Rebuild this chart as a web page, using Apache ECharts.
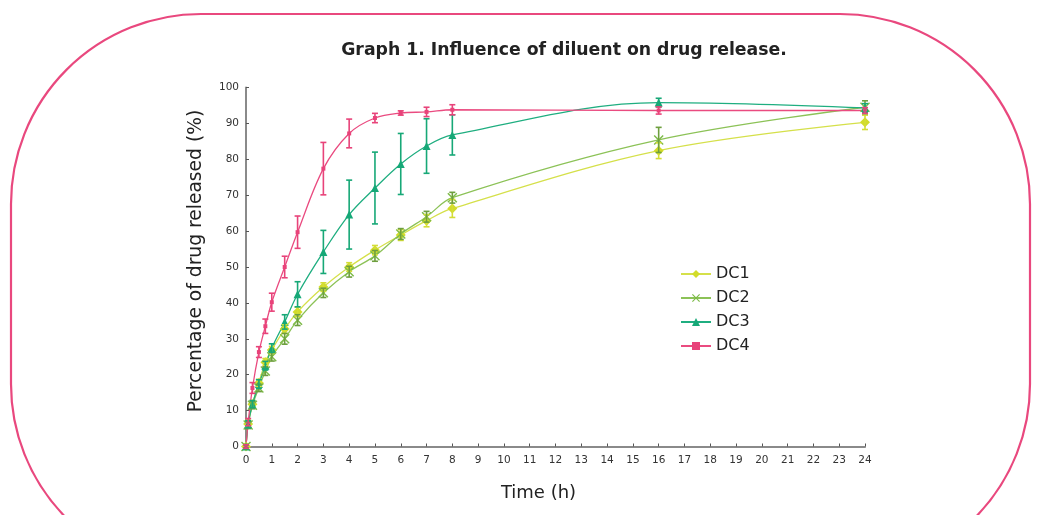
<!DOCTYPE html>
<html>
<head>
<meta charset="utf-8">
<script src="https://cdn.jsdelivr.net/npm/echarts@6/dist/echarts.min.js"></script>
<style>html,body{margin:0;padding:0;background:#fff;}#c{width:1038px;height:515px;}</style>
</head>
<body>
<div id="c"></div>
<script>
const times = [0, 0.083, 0.25, 0.5, 0.75, 1, 1.5, 2, 3, 4, 5, 6, 7, 8, 16, 24];
const seriesNames = ['DC1', 'DC2', 'DC3', 'DC4'];
const dc1 = [0, 6.3, 11.8, 17.7, 23.5, 26.9, 32.7, 37.5, 44.4, 50, 54.7, 58.9, 62.9, 66.3, 82.4, 90.3];
const dc1Err = [0.5, 1, 1, 1, 1, 1, 1.2, 1.3, 1.2, 1.2, 1.3, 1.5, 1.7, 2.5, 2.2, 2];
const dc2 = [0, 6, 11.5, 16.3, 21, 25, 30, 35.2, 42.8, 48.7, 53.1, 59.2, 64, 69.3, 85.4, 94.5];
const dc2Err = [0.5, 1, 1, 1, 1.2, 1.2, 1.5, 1.5, 1.3, 1.5, 1.5, 1.5, 1.5, 1.5, 3.5, 1.8];
const dc3 = [0, 6.2, 11.8, 17.4, 22.5, 27.4, 34.7, 42.4, 54.2, 64.6, 72, 78.7, 83.7, 86.8, 95.8, 94.3];
const dc3Err = [0.5, 1, 1, 1.2, 1.2, 1.2, 2, 3.5, 6, 9.6, 10, 8.5, 7.6, 5.6, 1.2, 1.2];
const dc4 = [0, 6.8, 16.3, 26.3, 33.5, 40.2, 50, 59.7, 77.4, 87.2, 91.5, 92.9, 93.2, 93.8, 93.6, 93.6];
const dc4Err = [0.5, 1, 1.5, 1.5, 2, 2.5, 3, 4.5, 7.3, 4, 1.3, 0.6, 1.3, 1.4, 1, 0.8];
const xTicks = [0,1,2,3,4,5,6,7,8,9,10,11,12,13,14,15,16,17,18,19,20,21,22,23,24];
const yTicks = [0,10,20,30,40,50,60,70,80,90,100];

const values = [dc1, dc2, dc3, dc4];
const errors = [dc1Err, dc2Err, dc3Err, dc4Err];
const lineColors = ['#d5e04a', '#8cc257', '#1fae80', '#ea4b80'];
const markColors = ['#d2dc2a', '#7dbb48', '#15a877', '#e8437a'];
const errColors = ['#d4dd36', '#6e9f3e', '#17a877', '#e8437a'];
const symbols = ['diamond', 'path://M0,1L1,0L5,4L9,0L10,1L6,5L10,9L9,10L5,6L1,10L0,9L4,5Z', 'triangle', 'rect'];
const symbolSizes = [10, 10, 8, 4];

const chart = echarts.init(document.getElementById('c'), null, {renderer: 'canvas'});
const series = [];
values.forEach((v, i) => {
  series.push({
    name: seriesNames[i],
    type: 'line',
    smooth: 0.35,
    data: times.map((t, k) => [t, v[k]]),
    symbol: symbols[i],
    symbolSize: symbolSizes[i],
    showAllSymbol: true,
    lineStyle: {color: lineColors[i], width: 1.3},
    itemStyle: {color: markColors[i]},
    z: 3
  });
  series.push({
    name: seriesNames[i] + '_err',
    type: 'custom',
    data: times.map((t, k) => [t, v[k] - errors[i][k], v[k] + errors[i][k]]),
    renderItem: function (params, api) {
      const lo = api.coord([api.value(0), api.value(1)]);
      const hi = api.coord([api.value(0), api.value(2)]);
      const w = 3;
      const st = {stroke: errColors[i], lineWidth: 1.6};
      return {type: 'group', children: [
        {type: 'line', shape: {x1: lo[0], y1: lo[1], x2: hi[0], y2: hi[1]}, style: st},
        {type: 'line', shape: {x1: lo[0]-w, y1: lo[1], x2: lo[0]+w, y2: lo[1]}, style: st},
        {type: 'line', shape: {x1: hi[0]-w, y1: hi[1], x2: hi[0]+w, y2: hi[1]}, style: st}
      ]};
    },
    z: 4,
    silent: true
  });
});

chart.setOption({
  animation: false,
  backgroundColor: '#fff',
  title: {
    text: 'Graph 1. Influence of diluent on drug release.',
    left: 559, top: 37, textAlign: 'center',
    textStyle: {fontFamily: 'DejaVu Sans', fontWeight: 'bold', fontSize: 17.3, color: '#222'}
  },
  graphic: [{
    type: 'rect', silent: true,
    shape: {x: 11, y: 14, width: 1019, height: 560, r: 190},
    style: {fill: 'none', stroke: '#e9487e', lineWidth: 2.2}
  }],
  legend: {
    data: seriesNames,
    orient: 'vertical',
    left: 675, top: 261,
    itemWidth: 30, itemHeight: 10, itemGap: 8,
    textStyle: {fontFamily: 'DejaVu Sans', fontSize: 16, color: '#222'}
  },
  grid: {left: 246, right: 173, top: 87.5, bottom: 68.5, containLabel: false},
  xAxis: {
    type: 'value', min: 0, max: 24, interval: 1,
    name: 'Time (h)', nameLocation: 'middle', nameGap: 38,
    nameTextStyle: {fontFamily: 'DejaVu Sans', fontSize: 18, color: '#222', padding: [0, 34, 0, 0]},
    axisLine: {lineStyle: {color: '#8a8a8a', width: 2}},
    axisTick: {inside: true, length: 3, lineStyle: {color: '#555'}},
    axisLabel: {color: '#333', fontFamily: 'DejaVu Sans', fontSize: 10.5, margin: 8,
      formatter: v => xTicks.includes(v) ? String(v) : ''},
    splitLine: {show: false}
  },
  yAxis: {
    type: 'value', min: 0, max: 100, interval: 10,
    name: 'Percentage of drug released (%)', nameLocation: 'middle', nameGap: 40,
    nameTextStyle: {fontFamily: 'DejaVu Sans', fontSize: 18.7, color: '#222', padding: [0, 0, 0, 12]},
    axisLine: {show: true, lineStyle: {color: '#8a8a8a', width: 2}},
    axisTick: {show: true, inside: true, length: 3, lineStyle: {color: '#555'}},
    axisLabel: {color: '#333', fontFamily: 'DejaVu Sans', fontSize: 10.5, margin: 7,
      formatter: v => yTicks.includes(v) ? String(v) : ''},
    splitLine: {show: false}
  },
  series: series
});
</script>
</body>
</html>
